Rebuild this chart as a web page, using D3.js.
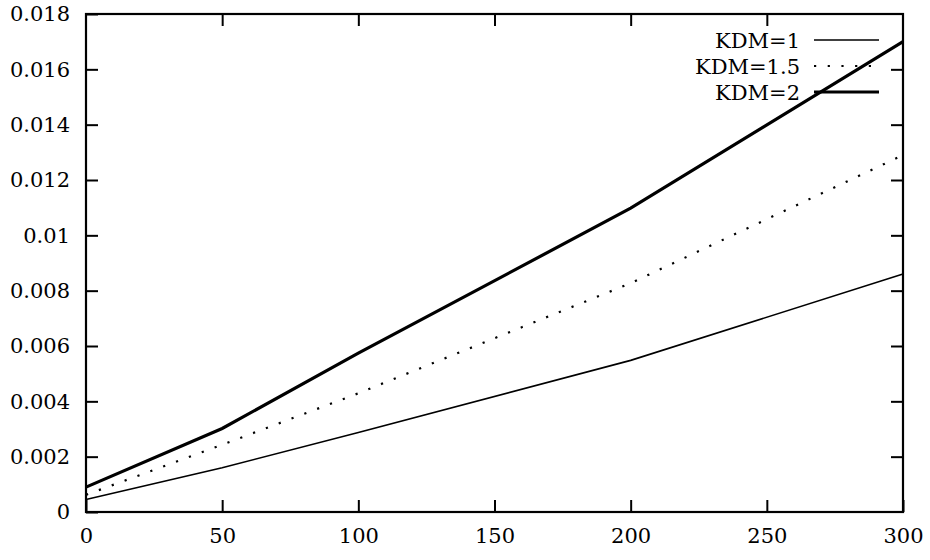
<!DOCTYPE html>
<html>
<head>
<meta charset="utf-8">
<script src="https://cdn.jsdelivr.net/npm/d3@7"></script>
<style>
  body { margin: 0; background: #fff; }
  svg { display: block; }
  text { font-family: "DejaVu Serif", serif; font-size: 21px; fill: #000; }
</style>
</head>
<body>
<svg width="930" height="560"></svg>
<script>
// значения по оси OX
const xValues = [0, 50, 100, 200, 300];
// серии
const kdm1  = [0.00045, 0.0016, 0.00287, 0.00548, 0.0086];
const kdm15 = [0.00062, 0.00243, 0.00429, 0.00827, 0.0129];
const kdm2  = [0.0009, 0.00302, 0.00574, 0.01098, 0.0170];
const seriesNames = ["KDM=1", "KDM=1.5", "KDM=2"];
// подписи делений
const xTicks = [0, 50, 100, 150, 200, 250, 300];
const yTicks = [0, 0.002, 0.004, 0.006, 0.008, 0.01, 0.012, 0.014, 0.016, 0.018];

const svg = d3.select("svg");
const area = { left: 86, right: 903, top: 14, bottom: 512 };

const scX = d3.scaleLinear().domain([0, 300]).range([area.left, area.right]);
const scY = d3.scaleLinear().domain([0, 0.018]).range([area.bottom, area.top]);

const tickLen = 12;

// деления внутрь, с зеркальными на противоположной стороне
let axisBottom = d3.axisBottom(scX).tickValues(xTicks).tickSize(-tickLen).tickPadding(14).tickFormat(d => d);
let axisLeft = d3.axisLeft(scY).tickValues(yTicks).tickSize(-tickLen).tickPadding(16).tickFormat(d => d);
let axisTop = d3.axisTop(scX).tickValues(xTicks.slice(1, -1)).tickSize(-tickLen).tickFormat("");
let axisRight = d3.axisRight(scY).tickValues(yTicks.slice(1, -1)).tickSize(-tickLen).tickFormat("");

function styleAxis(g) {
    g.attr("font-family", null).attr("font-size", null);
    g.select(".domain").remove();
    g.selectAll("line").attr("stroke", "#000").attr("stroke-width", 2);
    g.selectAll("text").attr("fill", "#000");
}

svg.append("g").attr("transform", `translate(0,${area.bottom})`).call(axisBottom).call(styleAxis)
    .selectAll("text").attr("dy", "0.71em").attr("y", 16);
svg.append("g").attr("transform", `translate(${area.left},0)`).call(axisLeft).call(styleAxis)
    .selectAll("text").attr("dy", "0.33em");
svg.append("g").attr("transform", `translate(0,${area.top})`).call(axisTop).call(styleAxis);
svg.append("g").attr("transform", `translate(${area.right},0)`).call(axisRight).call(styleAxis);

// рамка
svg.append("rect")
    .attr("x", area.left).attr("y", area.top)
    .attr("width", area.right - area.left).attr("height", area.bottom - area.top)
    .attr("fill", "none").attr("stroke", "#000").attr("stroke-width", 2.2);

const styles = [
    { width: 1.6, dash: null },
    { width: 2.2, dash: "2.2,11.5" },
    { width: 3.2, dash: null }
];
const allSeries = [kdm1, kdm15, kdm2];

const line = d3.line().x(d => scX(d[0])).y(d => scY(d[1]));

// легенда
const legX = 800, legY = [40, 66, 92];
allSeries.forEach((s, i) => {
    svg.append("text")
        .attr("x", legX).attr("y", legY[i] + 8)
        .attr("text-anchor", "end")
        .text(seriesNames[i]);
    svg.append("line")
        .attr("x1", 814).attr("x2", 879)
        .attr("y1", legY[i]).attr("y2", legY[i])
        .attr("stroke", "#000")
        .attr("stroke-width", styles[i].width)
        .attr("stroke-dasharray", styles[i].dash);
});

// линии графика
allSeries.forEach((s, i) => {
    svg.append("path")
        .datum(xValues.map((x, j) => [x, s[j]]))
        .attr("d", line)
        .attr("fill", "none")
        .attr("stroke", "#000")
        .attr("stroke-width", styles[i].width)
        .attr("stroke-dasharray", styles[i].dash);
});
</script>
</body>
</html>
